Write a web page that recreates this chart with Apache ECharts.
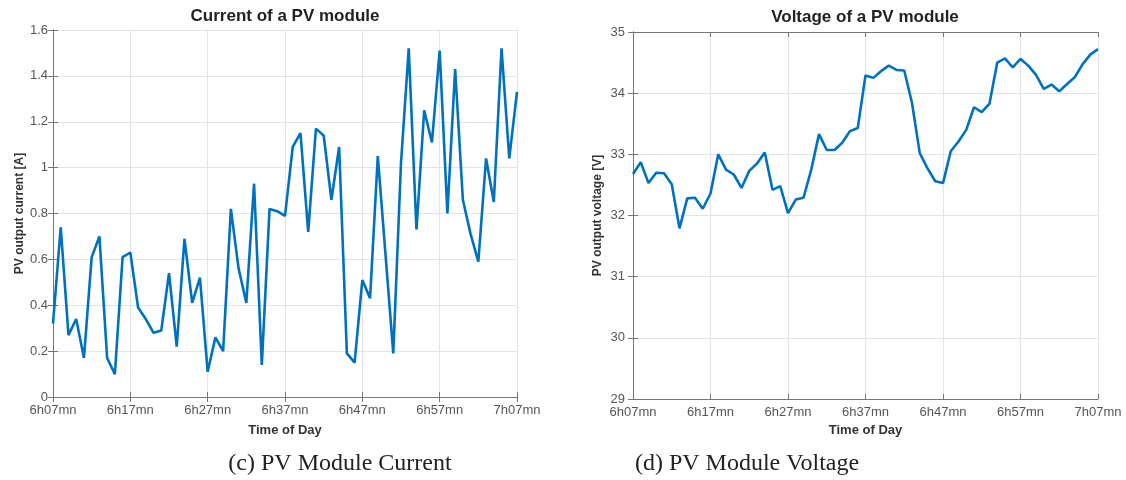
<!DOCTYPE html>
<html>
<head>
<meta charset="utf-8">
<script src="https://cdn.jsdelivr.net/npm/echarts@6/dist/echarts.min.js"></script>
<style>
html,body{margin:0;padding:0;background:#fff;}
#chart{width:1126px;height:480px;}
</style>
</head>
<body>
<div id="chart"></div>
<script>
// one sample per minute, 6h07mn .. 7h07mn
const timeTicks = ['6h07mn','6h17mn','6h27mn','6h37mn','6h47mn','6h57mn','7h07mn'];
const current = [0.32,0.74,0.27,0.34,0.17,0.61,0.70,0.17,0.10,0.61,
                 0.63,0.39,0.34,0.28,0.29,0.54,0.22,0.69,0.41,0.52,
                 0.11,0.26,0.20,0.82,0.56,0.41,0.93,0.14,0.82,0.81,
                 0.79,1.09,1.15,0.72,1.17,1.14,0.86,1.09,0.19,0.15,
                 0.51,0.43,1.05,0.62,0.19,1.02,1.52,0.73,1.25,1.11,
                 1.51,0.80,1.43,0.86,0.71,0.59,1.04,0.85,1.52,1.04,1.33];
const voltage = [32.68,32.87,32.53,32.70,32.69,32.51,31.79,32.28,32.29,32.11,
                 32.36,33.00,32.75,32.67,32.45,32.73,32.85,33.03,32.42,32.48,
                 32.04,32.26,32.29,32.75,33.33,33.07,33.07,33.19,33.38,33.43,
                 34.29,34.25,34.36,34.45,34.38,34.37,33.84,33.02,32.77,32.56,
                 32.53,33.05,33.21,33.40,33.77,33.69,33.83,34.50,34.57,34.42,
                 34.56,34.45,34.30,34.07,34.14,34.03,34.15,34.26,34.47,34.63,34.72];
const titles = ['Current of a PV module','Voltage of a PV module'];
const yNames = ['PV output current [A]','PV output voltage [V]'];
const captions = ['(c) PV Module Current','(d) PV Module Voltage'];

const FONT = '"Liberation Sans", Arial, sans-serif';
const axisColor = '#767676';
const gridColor = '#e4e4e4';
const labelColor = '#555';
const lineColor = '#0072BD';

const chart = echarts.init(document.getElementById('chart'), null, {renderer:'canvas'});

function xAxes(gridIndex, gap){
  return [
    {type:'value', gridIndex, position:'bottom', min:0, max:60, interval:10,
     axisLine:{lineStyle:{color:axisColor,width:1}},
     axisTick:{inside:true,length:5,lineStyle:{color:axisColor}},
     axisLabel:{margin:7,fontSize:13,color:labelColor,fontFamily:FONT,
       formatter:v=>timeTicks[Math.round(v/10)]},
     splitLine:{show:true,lineStyle:{color:gridColor,width:1}},
     name:'Time of Day', nameLocation:'middle', nameGap:gap,
     nameTextStyle:{fontSize:13,fontWeight:'bold',color:'#333',fontFamily:FONT}},
    {type:'value', gridIndex, position:'top', min:0, max:60, interval:10,
     axisLine:{show:true,lineStyle:{color:axisColor,width:1}},
     axisTick:{show:true,inside:true,length:5,lineStyle:{color:axisColor}},
     axisLabel:{show:false}, splitLine:{show:false}}
  ];
}
function yAxes(gridIndex, min, max, interval, name, gap, margin){
  return [
    {type:'value', gridIndex, position:'left', min, max, interval,
     axisLine:{show:true,lineStyle:{color:axisColor,width:1}},
     axisTick:{show:true,inside:true,length:5,lineStyle:{color:axisColor}},
     axisLabel:{margin,fontSize:13,color:labelColor,fontFamily:FONT},
     splitLine:{show:true,lineStyle:{color:gridColor,width:1}},
     name, nameLocation:'middle', nameGap:gap,
     nameTextStyle:{fontSize:12,fontWeight:'bold',color:'#333',fontFamily:FONT}},
    {type:'value', gridIndex, position:'right', min, max, interval,
     axisLine:{show:true,lineStyle:{color:axisColor,width:1}},
     axisTick:{show:true,inside:true,length:5,lineStyle:{color:axisColor}},
     axisLabel:{show:false}, splitLine:{show:false}}
  ];
}

const option = {
  animation:false,
  backgroundColor:'#fff',
  grid:[
    {left:53, top:30, width:464, height:367},
    {left:633, top:32, width:465, height:367}
  ],
  xAxis:[...xAxes(0,27), ...xAxes(1,25)],
  yAxis:[...yAxes(0,0,1.6,0.2,yNames[0],24,5), ...yAxes(1,29,35,1,yNames[1],29,8)],
  series:[
    {type:'line', xAxisIndex:0, yAxisIndex:0, showSymbol:false,
     data:current.map((v,i)=>[i,v]),
     lineStyle:{color:lineColor,width:2.6}, itemStyle:{color:lineColor}},
    {type:'line', xAxisIndex:2, yAxisIndex:2, showSymbol:false,
     data:voltage.map((v,i)=>[i,v]),
     lineStyle:{color:lineColor,width:2.6}, itemStyle:{color:lineColor}}
  ],
  graphic:[
    {type:'text', x:285, y:16, style:{text:titles[0], font:'bold 17px '+FONT, fill:'#222', textAlign:'center', textVerticalAlign:'middle'}},
    {type:'text', x:865, y:17, style:{text:titles[1], font:'bold 17px '+FONT, fill:'#222', textAlign:'center', textVerticalAlign:'middle'}},
    {type:'text', x:340, y:464, style:{text:captions[0], font:'24px "Liberation Serif", "Times New Roman", serif', fill:'#222', textAlign:'center', textVerticalAlign:'middle'}},
    {type:'text', x:747, y:464, style:{text:captions[1], font:'24px "Liberation Serif", "Times New Roman", serif', fill:'#222', textAlign:'center', textVerticalAlign:'middle'}}
  ]
};
chart.setOption(option);
</script>
</body>
</html>
